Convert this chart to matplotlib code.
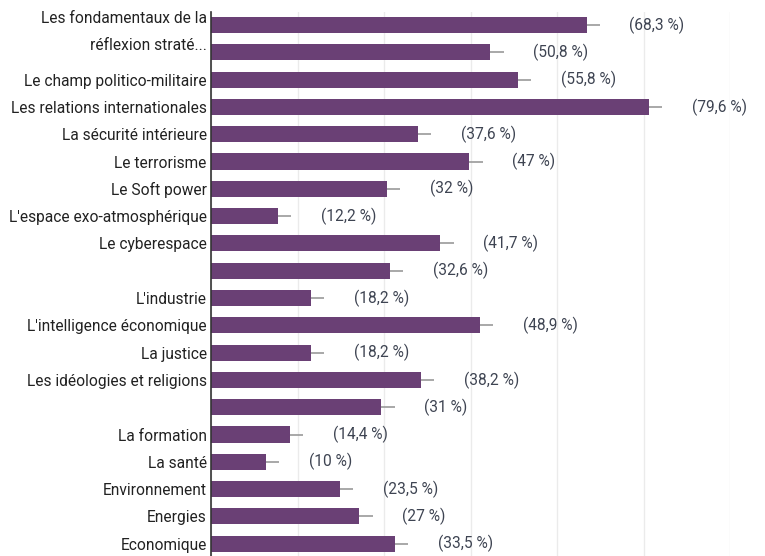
import matplotlib.pyplot as plt
import numpy as np

labels = ["Les fondamentaux de la\nréflexion straté...", "", "Le champ politico-militaire",
          "Les relations internationales", "La sécurité intérieure", "Le terrorisme",
          "Le Soft power", "L'espace exo-atmosphérique", "Le cyberespace", "",
          "L'industrie", "L'intelligence économique", "La justice",
          "Les idéologies et religions", "", "La formation", "La santé",
          "Environnement", "Energies", "Economique"]
values = [68.3, 50.8, 55.8, 79.6, 37.6, 47, 32, 12.2, 41.7, 32.6,
          18.2, 48.9, 18.2, 38.2, 31, 14.4, 10, 23.5, 27, 33.5]
value_text = ["68,3", "50,8", "55,8", "79,6", "37,6", "47", "32", "12,2", "41,7", "32,6",
              "18,2", "48,9", "18,2", "38,2", "31", "14,4", "10", "23,5", "27", "33,5"]
err = 2.4

plt.rcParams['font.family'] = ['Roboto', 'DejaVu Sans']

fig = plt.figure(figsize=(7.65, 5.56), dpi=100)
ax = fig.add_axes([211 / 765, 0, (730 - 211) / 765, 1 - 12 / 556])

ind = np.arange(len(values))
ax.barh(ind, values, height=0.59, color='#6a4075', zorder=2)
ax.errorbar(values, ind, xerr=[np.zeros(len(values)), np.full(len(values), err)],
            fmt='none', ecolor='#9a9a9a', elinewidth=1.2, capsize=0, zorder=3)

for i, v in enumerate(values):
    ax.text(v + 7.8, i, "(" + value_text[i] + " %)", va='center', ha='left',
            fontsize=11.2, color='#3e4452', clip_on=False)

step = 15.73
ax.set_xlim(0, 6 * step)
ax.set_xticks(np.arange(0, 7) * step)
ax.set_xticklabels([])
ax.tick_params(axis='x', length=0)
ax.grid(axis='x', color='#ebebeb', linewidth=1, zorder=0)
ax.set_ylim(19.45, -0.476)
ax.set_yticks(ind)
ax.set_yticklabels(labels, fontsize=11.2, color='#222222', linespacing=1.95)
ax.tick_params(axis='y', length=0, pad=3)
for s in ['top', 'right', 'bottom']:
    ax.spines[s].set_visible(False)
ax.spines['left'].set_color('#333333')
ax.spines['left'].set_linewidth(1.2)

fig.savefig('out.png', dpi=100)
